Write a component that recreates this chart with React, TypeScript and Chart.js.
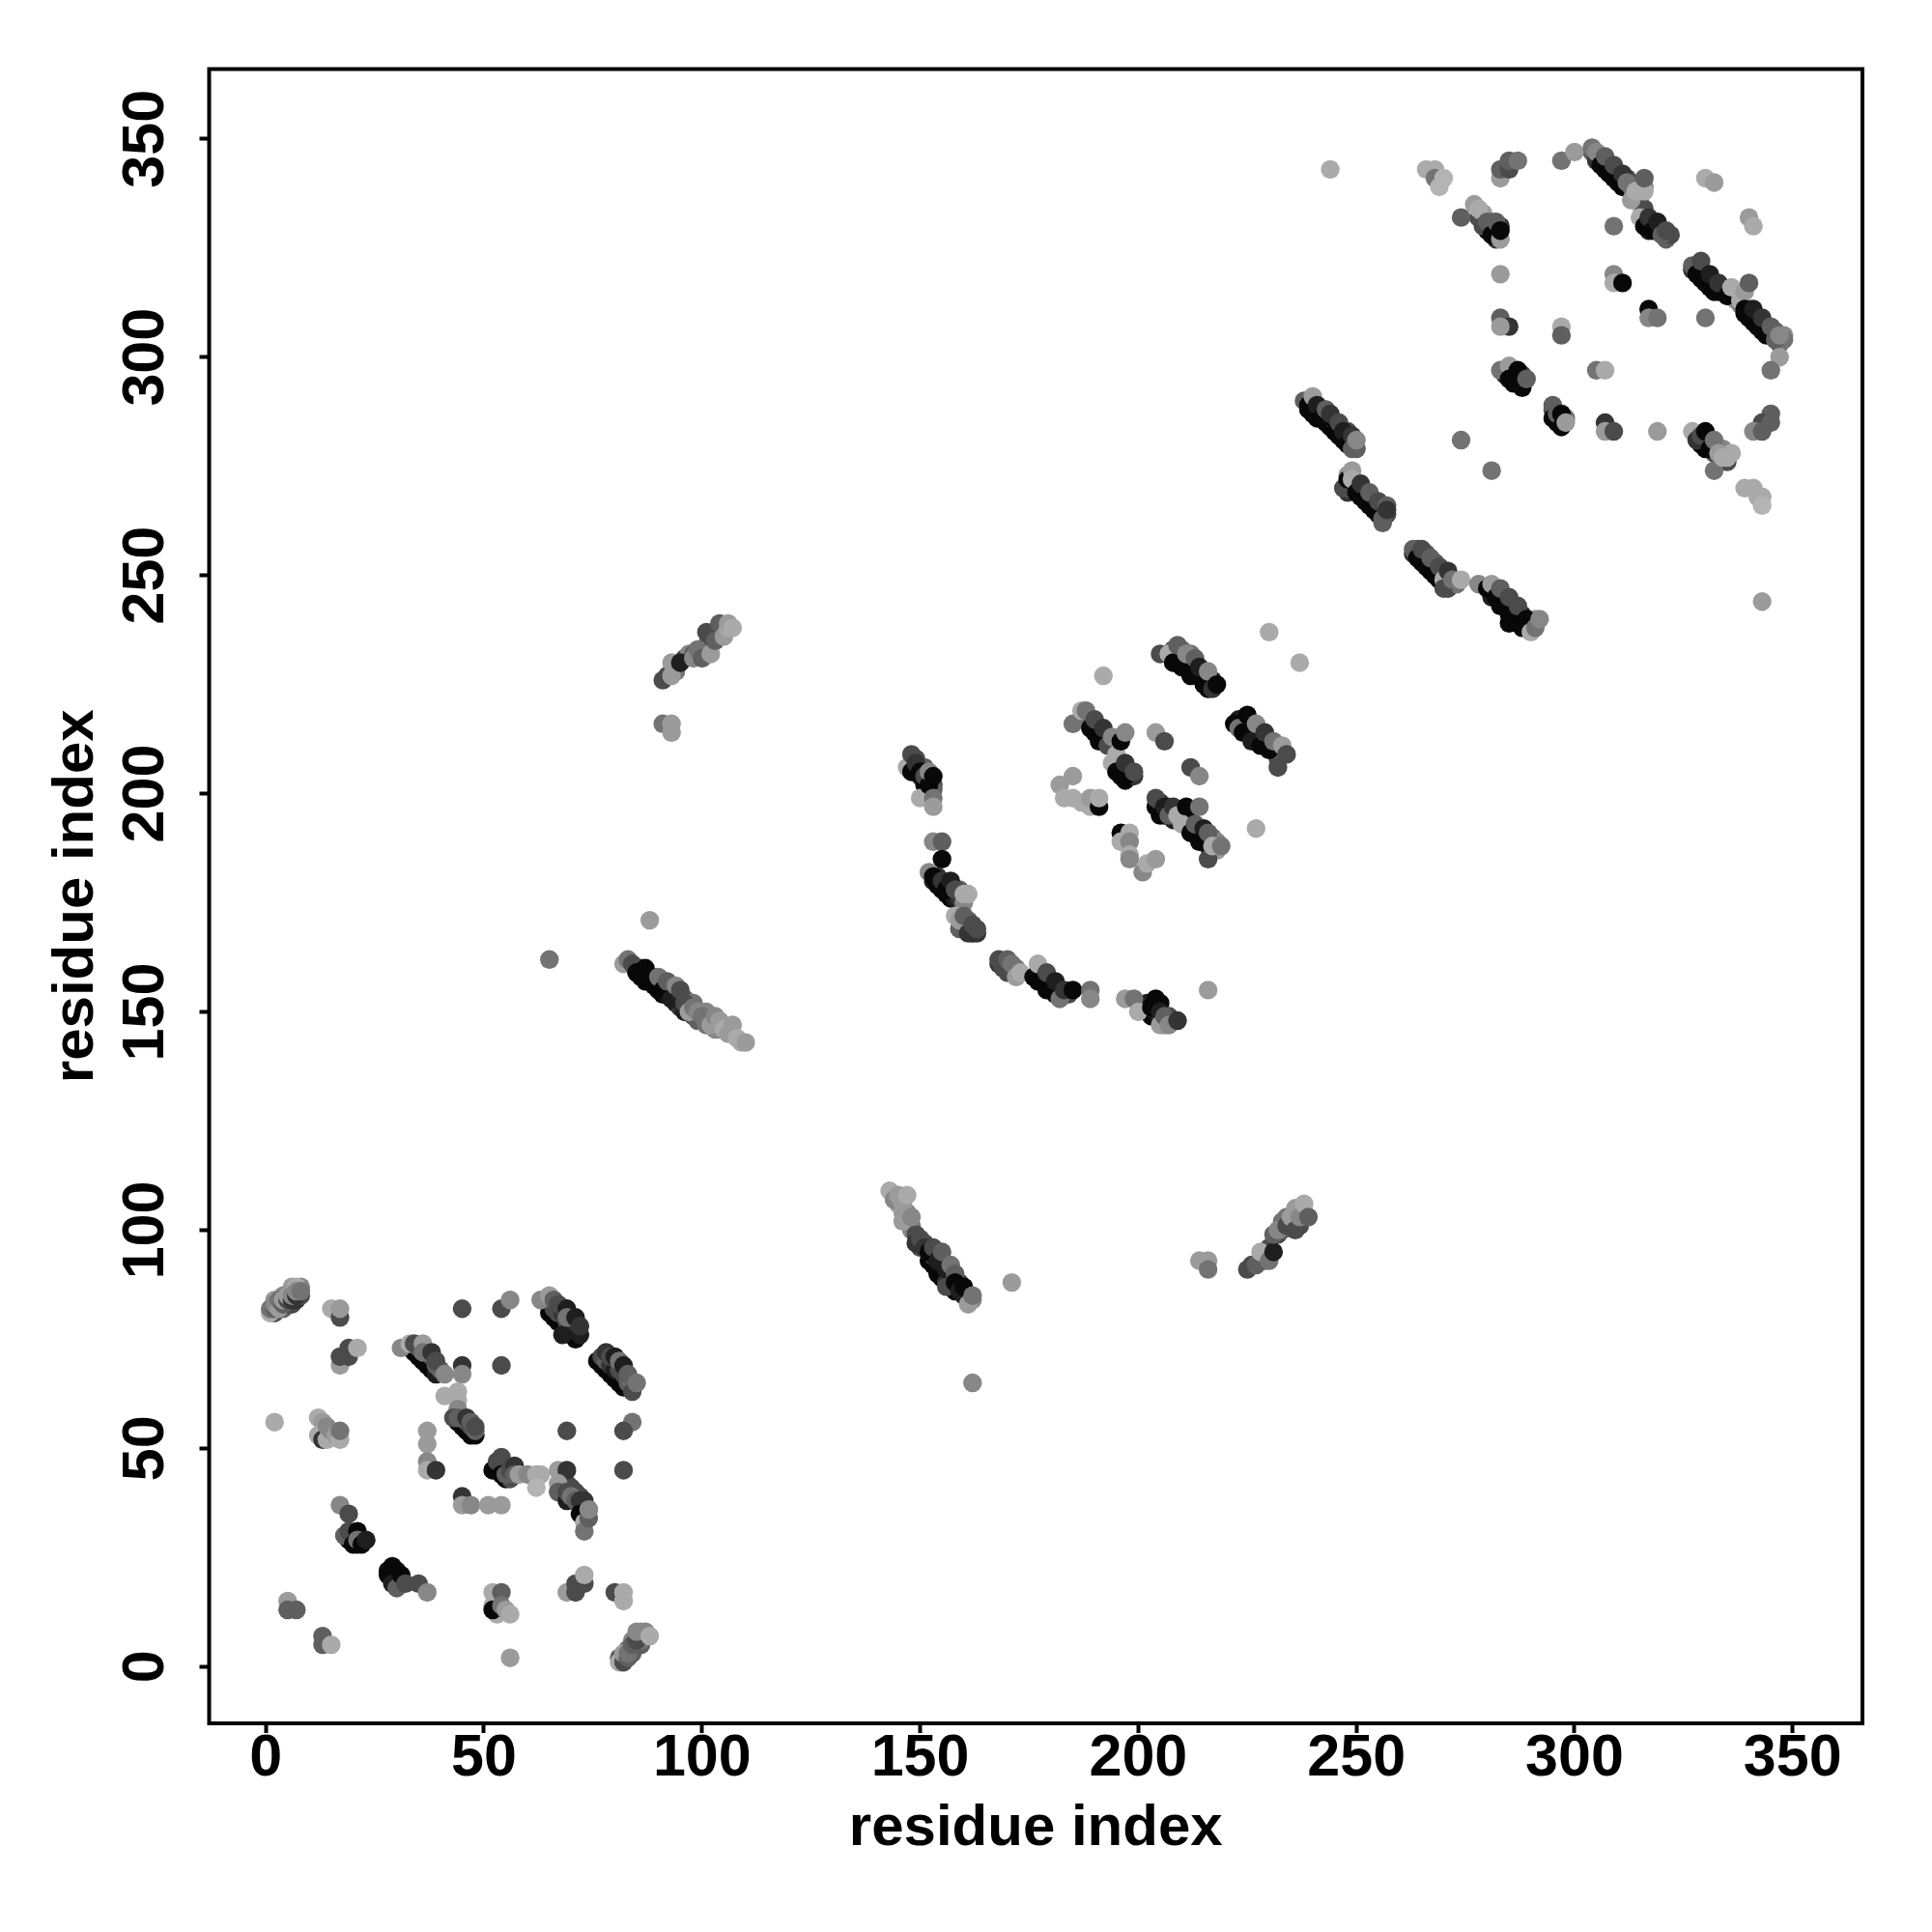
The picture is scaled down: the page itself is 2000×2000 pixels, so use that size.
import React, { useEffect, useRef } from "react";
import { Chart, registerables } from "chart.js";

Chart.register(...registerables);

type P = [number, number, number];

const axisTicks = [0, 50, 100, 150, 200, 250, 300, 350];
const axisLabel = "residue index";
const greys = [8, 30, 52, 75, 95, 115, 135, 155, 170, 180];

// [residue i, residue j, shade level 0 (darkest) .. 9 (lightest)]
const strandBacking: P[] = [
  [34,72,0],[35,71,0],[36,70,0],[37,69,0],[38,68,0],[39,67,1],[35,73,3],[36,73,2],[37,72,3],[38,71,3],[39,69,4],[40,68,4],
  [65,81,0],[66,80,0],[67,79,0],[68,78,0],[69,77,0],[70,76,0],[71,75,0],[66,82,3],[67,81,3],[68,81,2],[69,79,3],[70,78,2],[71,77,2],[72,76,1],
  [76,70,0],[77,69,0],[78,68,0],[79,67,0],[80,66,0],[81,65,0],[82,64,0],[77,71,3],[78,70,4],[79,69,2],[80,68,1],[81,68,3],[82,67,3],[83,65,4],[84,65,5],
  [44,56,0],[45,55,0],[46,54,0],[47,53,0],[48,53,0],[45,57,3],[46,56,3],[47,55,3],[48,54,4],
  [68,41,0],[69,40,0],[70,39,0],[71,38,0],[72,37,0],[73,36,0],[73,35,0],[69,42,3],[70,41,3],[71,40,3],[72,39,3],[73,38,2],[74,36,4],
  [2,81,3],[3,83,4],[4,82,4],[5,83,3],[6,83,3],[7,84,2],[8,85,3],[8,87,6],[6,87,7],[4,85,6],[2,84,7],
  [81,2,4],[82,2,5],[83,4,5],[84,3,4],[84,6,6],[85,5,3],[86,5,4],[86,6,5],[86,8,6],[87,7,6],
  [53,45,0],[55,46,3],[55,43,0],[56,43,3],[54,46,3],[53,46,1],
  [19,29,0],[20,30,0],[21,30,1],[20,29,1],[22,29,0],[21,28,0],
  [28,22,0],[29,21,1],[30,20,0],[30,22,1],[31,19,2],
  [85,159,0],[87,157,0],[88,157,0],[90,155,0],[91,154,0],[92,154,1],[93,153,0],[94,152,1],[95,151,2],[96,150,1],[97,150,3],[98,149,3],[99,148,4],[100,148,4],[101,147,5],[102,147,5],[103,146,6],[104,146,6],
  [86,160,3],[89,158,4],[91,157,5],[93,155,4],[96,153,4],[98,152,5],[100,150,6],[101,150,6],
  [92,227,3],[94,228,5],[96,231,3],[97,232,6],[98,232,4],[100,233,5],[101,234,4],[102,235,3],[103,237,4],[104,236,6],[105,238,5],
  [144,108,7],[145,106,7],[146,104,7],[147,104,6],[148,101,5],[148,100,6],[149,99,3],[150,96,3],[151,97,3],[152,93,0],[153,92,0],[154,90,0],[155,89,0],[156,88,2],[157,90,3],[158,86,0],[159,88,3],[160,85,1],[161,85,4],[162,84,6],[155,93,3],[154,95,4],[153,94,2],
  [232,99,3],[233,100,4],[233,102,5],[234,103,5],[235,101,4],[236,103,4],[237,105,7],[238,104,7],[238,103,5],[237,101,3],[226,92,3],[229,93,4],[228,93,3],[230,96,3],
  [149,205,2],[150,204,1],[151,202,0],[152,203,3],[149,208,3],[150,206,4],[151,206,4],[153,202,3],[153,201,4],
  [153,180,1],[154,181,2],[155,178,0],[156,177,0],[157,176,0],[158,176,1],[159,176,2],[160,175,6],[159,178,4],
  [160,170,3],[161,169,3],[162,168,0],[163,168,2],[161,171,4],[159,169,4],
  [168,161,2],[169,161,3],[170,159,3],[171,159,3],[172,160,5],[170,160,2],
  [177,157,0],[178,159,2],[179,155,0],[180,157,1],[181,154,0],[182,155,1],[183,154,2],[184,154,3],[177,159,1],[179,157,0],
  [202,152,1],[203,149,0],[204,149,0],[205,152,0],[206,148,1],[207,149,3],[208,148,2],[206,147,6],[204,150,1],
  [209,232,0],[210,231,1],[211,230,2],[212,229,3],[213,228,0],[214,227,2],[215,227,4],[216,224,0],[216,226,1],[217,226,1],[208,233,4],[210,233,5],[212,232,5],
  [223,217,1],[224,216,0],[225,215,0],[226,214,2],[227,213,0],[228,213,3],[229,212,1],[230,212,4],[231,210,3],[232,209,4],[232,208,3],[233,209,4],
  [188,217,3],[189,217,4],[190,214,0],[191,212,0],[192,213,2],[193,212,1],[194,211,3],[195,207,0],[196,206,1],[197,206,3],[198,205,2],[198,204,1],[197,203,0],[199,204,2],
  [204,197,0],[205,198,2],[206,195,0],[207,197,3],[208,194,1],[211,195,0],[212,193,0],[213,191,0],[214,190,0],[215,189,0],[216,188,1],[217,190,5],[218,189,6],[218,187,7],
  [239,288,0],[240,288,2],[241,286,0],[242,287,4],[243,285,0],[244,284,0],[245,285,4],[246,282,0],[247,281,0],[248,283,3],[249,280,1],[250,279,4],
  [248,269,2],[249,270,0],[250,271,3],[251,268,0],[252,269,3],[253,266,0],[254,267,3],[255,264,1],[256,265,3],[257,264,3],[256,262,4],[248,270,4],[248,273,7],
  [264,256,3],[265,253,0],[266,255,4],[267,251,0],[268,253,4],[269,249,0],[270,251,3],[271,249,1],[272,248,3],[263,255,2],[264,255,1],[271,247,3],[273,248,5],
  [281,245,1],[282,247,4],[283,243,0],[284,245,3],[285,241,0],[286,243,3],[287,239,0],[288,241,2],[289,238,0],[290,239,0],[291,240,7],[290,238,7],[288,240,0],[285,239,0],
  [304,347,4],[305,345,2],[306,346,4],[307,343,0],[308,344,3],[309,341,0],[310,342,2],[311,339,0],[312,341,3],[313,339,5],[314,337,7],[315,336,7],[316,339,6],[315,335,8],[316,334,3],[317,331,0],[318,331,3],[319,329,1],[320,329,3],[321,327,4],[322,328,3],[317,329,1],
  [327,320,2],[328,321,3],[329,318,0],[330,319,2],[331,316,0],[332,317,1],[333,315,0],[334,316,3],[335,315,1],[337,313,7],[338,312,6],[339,310,0],[340,311,2],[341,308,0],[342,309,3],[343,306,0],[344,307,4],[345,305,1],[346,306,4],[347,303,4],[348,305,6],[348,304,5],
  [328,282,3],[329,280,0],[330,279,0],[331,281,4],[332,278,3],[333,279,5],[334,279,6],[335,276,3],[336,278,8],
  [284,296,2],[285,296,0],[286,295,0],[287,295,1],[288,296,3],[288,293,0],
  [295,288,3],[296,285,0],[296,286,1],[298,286,5],[297,285,2],
  [278,332,3],[279,333,7],[280,329,0],[281,331,5],[282,329,4],[282,327,2],[283,330,2],
];

const domainOne: P[] = [
  [1,81,8],[1,82,5],[2,82,4],[2,83,6],[3,82,7],[3,84,5],[4,83,4],[4,84,7],[5,84,3],[5,85,7],[6,84,2],[6,85,6],[7,85,2],[7,87,8],[7,86,6],[8,86,5],
  [15,82,8],[17,80,3],[17,82,7],
  [17,69,7],[17,71,3],[19,71,3],[19,73,3],[21,73,8],
  [31,73,6],[33,74,8],[34,74,3],[36,74,7],[36,72,5],[38,72,2],[39,70,3],[41,67,6],
  [45,69,2],[45,67,6],[54,69,3],[45,82,3],[54,82,3],[56,84,6],
  [63,84,6],[65,85,7],[68,76,1],[66,84,4],[67,83,3],[69,82,1],[69,80,5],[71,80,1],[72,78,2],
  [78,72,2],[79,71,3],[80,71,1],[81,70,5],[82,69,1],[83,67,4],[84,63,3],[85,65,5],
  [84,56,5],[82,54,3],[82,45,3],[69,54,3],
  [41,62,8],[44,63,8],[44,61,8],[44,59,6],[43,57,3],[44,57,4],[46,57,2],[47,56,4],[48,55,3],
  [2,56,8],[12,57,8],[13,56,7],[12,53,8],[13,52,2],[14,52,8],[14,55,6],[15,54,6],[16,53,7],[17,52,8],[17,54,5],
  [37,54,7],[37,51,7],[37,47,6],[37,45,8],[39,45,2],
  [45,39,2],[45,37,7],[47,37,6],[51,37,7],[54,37,7],
  [52,45,0],[53,47,3],[54,48,3],[54,44,0],[55,44,4],[56,45,3],[57,46,2],[57,44,4],[58,44,7],[60,44,6],[62,44,8],[63,44,8],[62,41,9],
  [67,45,7],[69,45,2],[67,42,7],[67,40,4],[69,38,1],[69,40,3],[70,39,5],[71,38,4],[72,38,2],[72,35,0],[73,33,8],[73,31,5],[74,34,4],[74,36,6],
  [17,37,6],[19,35,3],[18,30,4],[19,31,3],[20,28,0],[21,31,0],[21,29,5],[22,28,0],[23,29,1],
  [28,21,0],[29,23,0],[29,19,1],[30,18,4],[31,21,0],[32,19,3],[35,19,3],[37,17,6],
  [5,15,7],[5,13,4],[7,13,4],[13,7,4],[13,5,4],[15,5,8],
  [52,17,8],[52,14,8],[53,12,8],[52,13,0],[54,17,4],[54,14,5],[55,13,7],[56,12,8],
  [69,17,7],[71,17,3],[71,19,3],[73,19,3],[73,21,8],
  [80,17,3],[82,17,8],[82,15,8],[56,2,7],
  [81,1,8],[82,1,3],[82,3,7],[83,2,4],[83,3,5],[84,5,4],[85,6,3],[85,8,6],[87,8,6],[88,7,8],
];

const linkerStrands: P[] = [
  [65,162,5],[88,171,7],
  [82,161,7],[83,162,5],[84,161,3],[85,159,0],[86,158,0],[87,160,0],[88,157,0],[89,156,0],[90,158,5],[91,155,0],[92,157,4],[93,153,1],[94,156,6],[95,155,3],[96,152,3],[97,150,7],[98,151,5],[99,150,6],[100,149,5],[102,147,7],[103,149,6],[104,148,7],[105,146,8],[106,145,7],[107,147,7],[108,144,8],[109,143,8],[110,143,7],
  [91,216,5],[93,216,7],[93,214,7],
  [91,226,3],[93,227,7],[93,230,7],[95,230,1],[98,231,6],[99,233,5],[100,231,4],[101,237,3],[102,232,7],[103,235,4],[104,239,4],[105,236,7],[106,238,8],[106,239,7],[107,238,8],
  [143,109,8],[144,107,6],[145,108,7],[146,106,7],[147,108,8],[146,102,7],[148,103,6],[149,97,2],[150,98,3],[151,96,2],[152,95,0],[153,96,3],[154,93,1],[155,95,4],[156,91,1],[157,92,5],[158,90,4],[156,87,3],[158,88,0],[159,86,1],[160,87,0],[161,83,7],[162,85,5],
  [162,65,6],[171,88,7],
  [214,93,7],[216,93,7],[216,91,5],
  [225,91,3],[227,92,4],[228,95,8],[230,93,5],[231,95,1],[231,99,4],[232,100,6],[234,101,3],[235,103,7],[236,100,3],[236,105,7],[237,103,6],[238,106,8],[239,103,4],
];

const domainTwo: P[] = [
  [147,206,8],[148,209,3],[148,205,0],[149,207,2],[150,199,8],[150,205,0],[151,204,3],[152,202,0],[152,205,6],[153,199,5],[153,197,7],[153,204,0],
  [153,189,6],[155,189,4],[155,185,0],
  [152,182,6],[153,181,0],[154,179,0],[155,180,2],[156,178,0],[157,180,1],[158,178,3],[160,177,8],[161,177,8],
  [158,172,8],[159,171,7],[160,172,4],[161,168,2],[162,170,3],[163,169,3],
  [168,162,3],[169,160,3],[170,162,4],[171,161,5],[172,158,7],[173,159,8],
  [176,158,0],[177,161,8],[178,157,0],[179,159,3],[180,155,0],[181,157,1],[182,153,5],[183,155,2],[185,155,0],[189,155,5],[189,153,6],
  [197,153,7],[199,153,5],[200,150,8],[203,151,0],[204,153,0],[205,150,1],[205,147,7],[206,149,4],[207,147,6],[209,148,2],[216,155,7],
  [192,227,8],[230,237,8],[237,230,8],
  [205,232,3],[207,232,8],[208,230,0],[209,234,4],[210,229,0],[211,232,6],[212,227,0],[213,231,4],[214,229,1],[215,225,0],[216,228,6],[217,224,2],[218,225,0],
  [222,216,0],[223,215,5],[224,214,0],[225,218,0],[226,212,1],[227,216,6],[228,211,0],[229,214,2],[230,210,0],[231,212,5],[232,206,3],[233,211,7],[234,209,3],
  [185,216,5],[187,219,8],[188,219,5],[189,215,0],[190,217,3],[191,213,0],[192,215,2],[193,211,3],[194,213,6],[194,207,8],[195,209,8],[196,212,0],[197,214,6],[195,205,0],[196,204,0],[197,204,0],[197,207,2],[199,205,3],
  [204,214,7],[206,212,3],[212,206,3],[214,204,6],
  [227,192,8],
  [182,202,7],[183,199,8],[185,204,7],[185,199,8],[187,198,8],[189,197,8],[189,199,7],[191,197,0],[191,199,8],
  [196,191,0],[196,189,8],[198,191,8],[198,189,6],[198,186,8],[198,185,6],[201,182,6],[202,184,8],[204,185,7],
  [204,199,3],[205,195,0],[206,197,1],[207,195,4],[208,197,2],[209,195,8],[211,197,0],[214,197,5],[210,193,8],[212,191,0],[213,193,4],[214,189,0],[215,192,1],[216,191,4],[216,185,3],[217,188,8],[219,188,5],
];

const domainThree: P[] = [
  [238,290,4],[239,289,0],[240,291,7],[240,287,0],[241,289,1],[242,286,0],[243,288,4],[244,287,2],[245,283,0],[246,285,3],[247,283,1],[248,280,0],[249,282,2],[249,279,4],[250,281,6],
  [247,270,3],[248,272,0],[249,274,7],[249,272,8],[250,269,0],[251,271,2],[252,267,0],[253,269,4],[254,265,0],[255,267,3],[256,263,4],[257,266,4],[257,265,2],
  [263,256,4],[264,254,0],[265,256,3],[266,252,0],[267,254,4],[268,250,0],[269,252,3],[270,249,8],[270,247,3],[271,251,2],[272,249,5],[274,249,8],
  [278,248,6],[280,247,0],[281,248,7],[282,245,0],[283,247,4],[284,243,0],[285,245,3],[286,241,0],[287,243,3],[288,238,0],[289,240,0],[290,237,8],[291,238,5],[292,240,6],
  [244,343,8],[266,343,8],[268,343,8],[268,341,5],[269,339,9],[270,341,9],
  [274,332,4],[277,335,7],[278,334,8],[279,330,3],[280,331,4],[281,328,0],[282,331,4],[283,327,7],[283,329,0],[283,341,7],[283,343,4],[285,343,3],[285,345,4],[287,345,5],
  [297,345,5],[300,347,7],
  [304,348,5],[305,347,6],[306,344,0],[307,346,4],[308,342,0],[309,344,3],[310,340,0],[311,342,2],[312,340,5],[313,336,7],[314,338,8],[316,338,8],[316,341,4],[315,332,8],[316,330,0],[317,332,2],[318,329,0],[319,331,1],[320,328,4],[321,329,3],
  [309,330,5],[309,319,6],[309,317,8],[311,317,0],[317,311,0],[317,309,6],[319,309,5],
  [330,341,8],[332,340,7],[340,332,7],[341,330,8],
  [330,309,5],
  [327,321,4],[328,319,0],[329,322,3],[330,317,0],[331,319,1],[332,315,0],[333,317,2],[335,314,0],[336,316,8],[338,313,8],[339,315,7],[340,317,4],
  [339,311,0],[340,309,0],[341,311,1],[342,307,0],[343,309,2],[344,305,0],[345,307,4],[346,304,4],[347,305,6],
  [347,300,7],[345,297,5],
  [345,287,4],[343,285,3],[345,285,4],[341,283,6],[343,283,4],
  [319,283,7],[307,285,2],[307,283,7],[309,283,3],
  [332,274,5],[327,283,8],[328,281,2],[329,282,3],[330,283,0],[331,279,0],[332,281,5],[333,278,7],[334,277,8],[335,277,8],
  [339,270,8],[341,270,8],[342,268,8],[343,268,8],[343,266,9],[343,244,7],
  [283,319,7],[283,309,4],[285,307,2],[283,307,7],
  [297,307,8],[297,305,4],[305,297,5],[307,297,8],
  [283,297,5],[285,298,7],[285,295,0],[286,294,0],[287,297,0],[288,294,0],[289,295,4],
  [295,289,4],[295,286,0],[296,287,4],[297,284,0],[297,287,0],[298,285,7],
  [274,281,5],[281,274,5],
];

const allPoints: P[] = [...strandBacking, ...domainOne, ...linkerStrands, ...domainTwo, ...domainThree];

const tickFont = { family: "'Liberation Sans'", size: 61, weight: "bold" as const };
const titleFont = { family: "'Liberation Sans'", size: 60, weight: "bold" as const };

const framePlugin = {
  id: "frame",
  afterDraw(chart: any) {
    const { ctx, chartArea: a } = chart;
    ctx.save();
    ctx.strokeStyle = "#000";
    ctx.lineWidth = 4;
    ctx.strokeRect(a.left, a.top, a.right - a.left, a.bottom - a.top);
    ctx.restore();
  },
};

export default function App() {
  const ref = useRef<HTMLCanvasElement>(null);
  useEffect(() => {
    const chart = new Chart(ref.current!, {
      type: "scatter",
      data: {
        datasets: [
          {
            data: allPoints.map(([x, y]) => ({ x, y })),
            backgroundColor: allPoints.map(([, , s]) => `rgb(${greys[s]},${greys[s]},${greys[s]})`),
            pointRadius: 9.7,
            pointBorderWidth: 0,
            pointHoverRadius: 9.7,
          },
        ],
      },
      options: {
        animation: false,
        responsive: false,
        devicePixelRatio: 1,
        layout: { padding: { left: 0, top: 71.5, right: 72, bottom: 0 } },
        plugins: { legend: { display: false }, tooltip: { enabled: false } },
        scales: {
          x: {
            type: "linear",
            min: -13,
            max: 366,
            afterBuildTicks: (s: any) => { s.ticks = axisTicks.map((value) => ({ value })); },
            afterFit: (s: any) => { s.height = 216; },
            grid: { drawOnChartArea: false, drawTicks: true, tickLength: 10, tickWidth: 4, tickColor: "#000" },
            border: { display: false },
            ticks: { color: "#000", font: tickFont, padding: -9, maxRotation: 0, minRotation: 0, autoSkip: false },
            title: { display: true, text: axisLabel, color: "#000", font: titleFont, padding: { top: 0, bottom: 71 } },
          },
          y: {
            type: "linear",
            min: -13,
            max: 366,
            afterBuildTicks: (s: any) => { s.ticks = axisTicks.map((value) => ({ value })); },
            afterFit: (s: any) => { s.width = 216.5; },
            grid: { drawOnChartArea: false, drawTicks: true, tickLength: 10, tickWidth: 4, tickColor: "#000" },
            border: { display: false },
            ticks: { color: "#000", font: tickFont, padding: 3, minRotation: 90, maxRotation: 90, crossAlign: "center", autoSkip: false },
            title: { display: true, text: axisLabel, color: "#000", font: titleFont, padding: { top: 43, bottom: 0 } },
          },
        },
      },
      plugins: [framePlugin],
    } as any);
    return () => chart.destroy();
  }, []);
  return (
    <canvas
      ref={ref}
      width={2000}
      height={2000}
      style={{ position: "absolute", left: 0, top: 0, display: "block", background: "#fff" }}
    />
  );
}
